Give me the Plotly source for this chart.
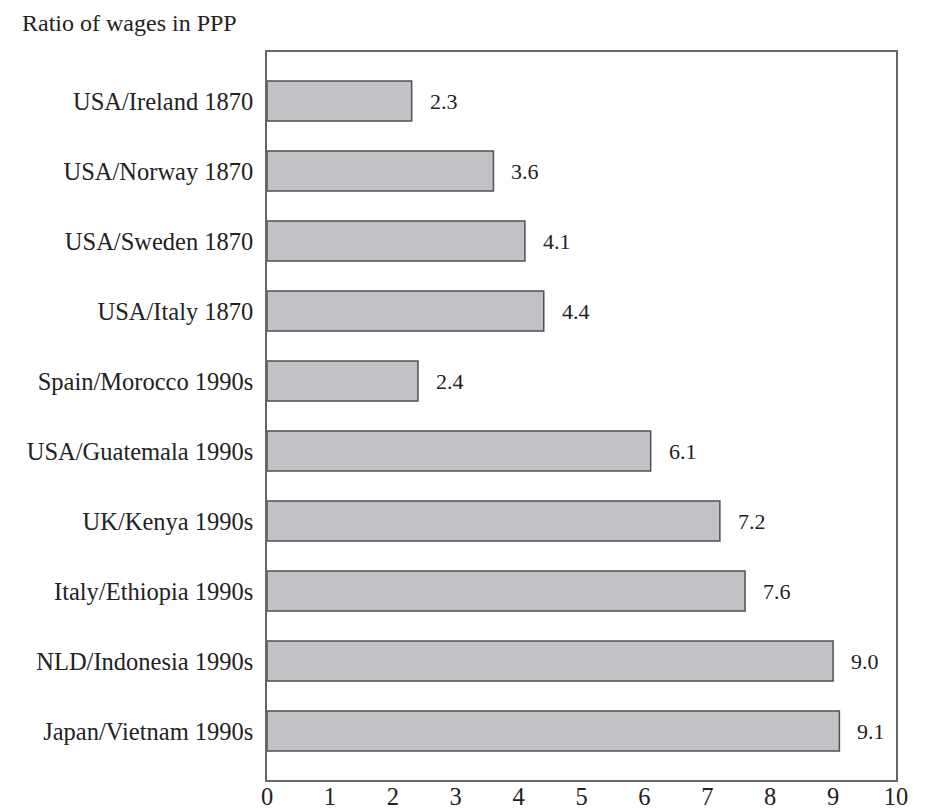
import plotly.graph_objects as go

categories = ["USA/Ireland 1870", "USA/Norway 1870", "USA/Sweden 1870", "USA/Italy 1870",
              "Spain/Morocco 1990s", "USA/Guatemala 1990s", "UK/Kenya 1990s",
              "Italy/Ethiopia 1990s", "NLD/Indonesia 1990s", "Japan/Vietnam 1990s"]
values = [2.3, 3.6, 4.1, 4.4, 2.4, 6.1, 7.2, 7.6, 9.0, 9.1]
tick_vals = [0, 1, 2, 3, 4, 5, 6, 7, 8, 9, 10]

FONT = "Liberation Serif"
FS = 24.5

# page offsets (body margin 8px)
W, H = 911, 804
L, R, T, B = 259, 23, 44, 32
plot_w = W - L - R

fig = go.Figure()
fig.add_trace(go.Bar(
    x=values, y=categories, orientation="h", width=0.57,
    marker=dict(color="#c2c2c6", line=dict(color="#505050", width=1.5)),
    hoverinfo="x+y",
))

for c, v in zip(categories, values):
    fig.add_annotation(x=v, y=c, text=f"{v:.1f}", showarrow=False,
                       xanchor="left", xshift=16, font=dict(family=FONT, size=22, color="#222"))

fig.add_annotation(x=(12 - L) / plot_w, y=1.0, xref="paper", yref="paper",
                   xanchor="left", yanchor="bottom", yshift=14,
                   text="Ratio of wages in PPP", showarrow=False,
                   font=dict(family=FONT, size=24, color="#222"))

fig.update_layout(
    width=W, height=H,
    margin=dict(l=L, r=R, t=T, b=B, autoexpand=False),
    paper_bgcolor="white", plot_bgcolor="white",
    showlegend=False,
    font=dict(family=FONT, size=FS, color="#222"),
    xaxis=dict(range=[0, 10], tickvals=tick_vals, showgrid=False, zeroline=False,
               showline=True, mirror=True, linecolor="#666666", linewidth=1.5,
               automargin=False, ticks="", ticklen=0, ticklabelstandoff=-6,
               tickfont=dict(family=FONT, size=FS, color="#222")),
    yaxis=dict(categoryorder="array", categoryarray=categories, autorange=False,
               range=[9.7, -0.7], showgrid=False, zeroline=False,
               showline=True, mirror=True, linecolor="#666666", linewidth=1.5,
               automargin=False, ticks="", ticklen=0, ticklabelstandoff=7,
               tickfont=dict(family=FONT, size=FS, color="#222")),
)

fig.write_html("out.html")
